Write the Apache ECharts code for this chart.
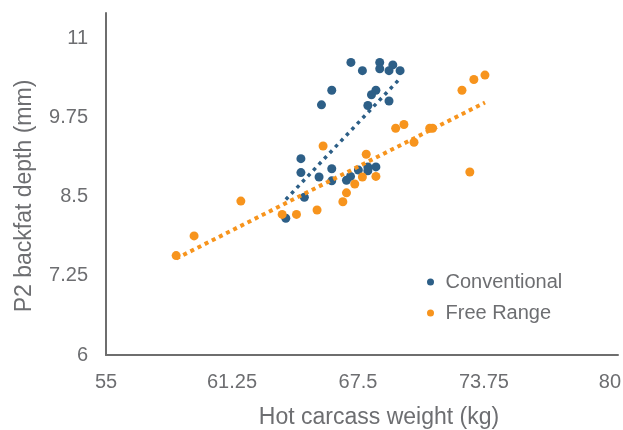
<!DOCTYPE html>
<html>
<head>
<meta charset="utf-8">
<script src="https://cdn.jsdelivr.net/npm/echarts@6/dist/echarts.min.js"></script>
<style>
  html, body { margin: 0; padding: 0; background: #fff; }
  #main { width: 623px; height: 430px; }
</style>
</head>
<body>
<div id="main"></div>
<script>
// hot carcass weight (kg) / P2 backfat depth (mm)
var convWeight = [67.15, 68.58, 69.23, 67.72, 68.58, 69.04, 69.59, 66.2, 68.39, 68.17, 65.69, 67.99, 69.04,
  64.67, 64.67, 65.57, 66.2, 66.2, 66.93, 67.13, 67.52, 67.99, 67.99, 68.39, 64.84, 63.92];
var convDepth = [10.62, 10.62, 10.58, 10.49, 10.52, 10.49, 10.49, 10.18, 10.18, 10.11, 9.95, 9.94, 10.01,
  9.1, 8.88, 8.81, 8.94, 8.75, 8.76, 8.82, 8.92, 8.97, 8.91, 8.97, 8.49, 8.16];

var freeWeight = [58.48, 59.37, 61.69, 63.74, 64.45, 65.47, 65.77, 66.75, 66.93, 67.34, 67.72, 67.91, 68.39,
  69.37, 69.78, 70.28, 71.06, 71.2, 72.66, 73.25, 73.8, 73.05];
var freeDepth = [7.57, 7.88, 8.43, 8.22, 8.22, 8.29, 9.3, 8.42, 8.56, 8.7, 8.81, 9.17, 8.82,
  9.58, 9.64, 9.36, 9.58, 9.58, 10.18, 10.35, 10.42, 8.89];

var xTicks = [55, 61.25, 67.5, 73.75, 80];
var yTicks = [6, 7.25, 8.5, 9.75, 11];

var textColor = '#6d6e71';
var blue = '#2d5f87';
var orange = '#f7941d';

function pairs(xs, ys) {
  var out = [];
  for (var i = 0; i < xs.length; i++) out.push([xs[i], ys[i]]);
  return out;
}

// least squares trendline over the data range, like the spreadsheet one
function trend(xs, ys) {
  var n = xs.length, sx = 0, sy = 0, sxx = 0, sxy = 0;
  for (var i = 0; i < n; i++) {
    sx += xs[i]; sy += ys[i]; sxx += xs[i] * xs[i]; sxy += xs[i] * ys[i];
  }
  var b = (n * sxy - sx * sy) / (n * sxx - sx * sx);
  var a = (sy - b * sx) / n;
  var lo = Math.min.apply(null, xs), hi = Math.max.apply(null, xs);
  return [[lo, a + b * lo], [hi, a + b * hi]];
}

function onTick(list) {
  return function (v) {
    for (var i = 0; i < list.length; i++) {
      if (Math.abs(list[i] - v) < 1e-6) return String(list[i]);
    }
    return '';
  };
}

var myChart = echarts.init(document.getElementById('main'));

var font = 'Liberation Sans, Arial, sans-serif';

var option = {
  animation: false,
  textStyle: { fontFamily: font },
  grid: { left: 106, right: 5, top: 13, bottom: 75, outerBoundsMode: 'none' },
  legend: {
    orient: 'vertical',
    left: 422,
    top: 267,
    itemWidth: 20,
    itemHeight: 7,
    itemGap: 11,
    icon: 'circle',
    textStyle: { color: textColor, fontSize: 20, fontFamily: font },
    data: ['Conventional', 'Free Range']
  },
  xAxis: {
    type: 'value',
    min: xTicks[0],
    max: 80.4,
    interval: 6.25,
    name: 'Hot carcass weight (kg)',
    nameLocation: 'middle',
    nameGap: 51,
    nameTextStyle: { color: textColor, fontSize: 23, fontFamily: font, padding: [0, 0, 0, 34] },
    axisLine: { show: true, lineStyle: { color: '#6e6e6e', width: 2 } },
    axisTick: { show: false },
    splitLine: { show: false },
    axisLabel: { color: textColor, fontSize: 20, margin: 17, formatter: onTick(xTicks), showMaxLabel: true }
  },
  yAxis: {
    type: 'value',
    min: yTicks[0],
    max: 11.4,
    interval: 1.25,
    name: 'P2 backfat depth (mm)',
    nameLocation: 'middle',
    nameGap: 70,
    nameRotate: 90,
    nameTextStyle: { color: textColor, fontSize: 23, fontFamily: font, padding: [0, 24, 0, 0] },
    axisLine: { show: true, lineStyle: { color: '#6e6e6e', width: 2 } },
    axisTick: { show: false },
    splitLine: { show: false },
    axisLabel: { color: textColor, fontSize: 20, margin: 18, formatter: onTick(yTicks) }
  },
  series: [
    {
      name: 'Conventional',
      type: 'scatter',
      symbolSize: 9,
      itemStyle: { color: blue, opacity: 1 },
      data: pairs(convWeight, convDepth),
      z: 3
    },
    {
      name: 'Free Range',
      type: 'scatter',
      symbolSize: 9,
      itemStyle: { color: orange, opacity: 1 },
      data: pairs(freeWeight, freeDepth),
      z: 3
    },
    {
      name: 'Conventional trend',
      type: 'line',
      showSymbol: false,
      symbol: 'none',
      silent: true,
      lineStyle: { color: blue, width: 3.5, type: [3.5, 4.5] },
      data: trend(convWeight, convDepth),
      z: 4
    },
    {
      name: 'Free Range trend',
      type: 'line',
      showSymbol: false,
      symbol: 'none',
      silent: true,
      lineStyle: { color: orange, width: 4, type: [4, 4] },
      data: trend(freeWeight, freeDepth),
      z: 4
    }
  ]
};

myChart.setOption(option);
</script>
</body>
</html>
